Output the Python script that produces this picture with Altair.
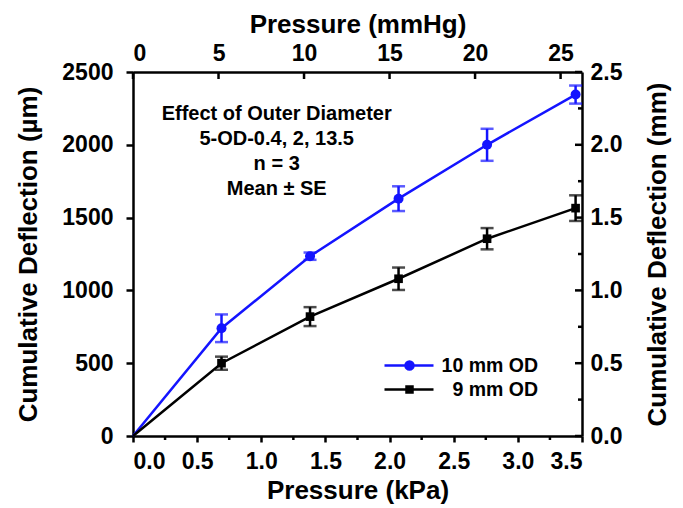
import altair as alt
import pandas as pd

# Pressure steps (kPa) and cumulative deflection (µm), mean and standard error
kpa = [0.0, 0.69, 1.38, 2.07, 2.76, 3.45]
od10_mean = [0, 740, 1235, 1630, 2000, 2345]
od10_se = [0, 95, 25, 85, 110, 62]
od9_mean = [0, 500, 820, 1080, 1355, 1565]
od9_se = [0, 45, 65, 77, 73, 88]

series_names = ["10 mm OD", "9 mm OD"]
series_colors = ["#1414ff", "#000000"]
series_shapes = ["circle", "square"]
series_sizes = [100, 75]

note_lines = ["Effect of Outer Diameter", "5-OD-0.4, 2, 13.5", "n = 3", "Mean \u00b1 SE"]

kpa_ticks = [0.0, 0.5, 1.0, 1.5, 2.0, 2.5, 3.0, 3.5]
kpa_minor = [0.25, 0.75, 1.25, 1.75, 2.25, 2.75, 3.25]
um_ticks = [0, 500, 1000, 1500, 2000, 2500]
mmhg_ticks = [0, 5, 10, 15, 20, 25]
mm_ticks = [0.0, 0.5, 1.0, 1.5, 2.0, 2.5]
mm_minor = [0.25, 0.75, 1.25, 1.75, 2.25]

KPA_MAX = 3.5
UM_MAX = 2500
KPA_TO_MMHG = 7.50062
W, H = 449, 364
FONT = "Liberation Sans"
LABEL_SIZE = 23
TITLE_SIZE = 26

rows = []
for name, means, ses in [(series_names[0], od10_mean, od10_se), (series_names[1], od9_mean, od9_se)]:
    for p, m, s in zip(kpa, means, ses):
        rows.append({"series": name, "kpa": p, "mean": m, "lo": m - s, "hi": m + s})
df = pd.DataFrame(rows)

x_scale = alt.Scale(domain=[0, KPA_MAX], nice=False, zero=False)
y_scale = alt.Scale(domain=[0, UM_MAX], nice=False)

x_axis = alt.Axis(values=kpa_ticks, format=".1f", title="Pressure (kPa)", orient="bottom",
                  tickSize=6, labelPadding=8, titlePadding=4, grid=False)
y_axis = alt.Axis(values=um_ticks, format="d", title="Cumulative Deflection (\u00b5m)", orient="left",
                  tickSize=7, labelPadding=13, titlePadding=20, grid=False)

X = alt.X("kpa:Q", scale=x_scale, axis=x_axis)
Y = alt.Y("mean:Q", scale=y_scale, axis=y_axis)


def series_layers(name, color, shape, size):
    base = alt.Chart(df).transform_filter(alt.datum.series == name)
    line = base.mark_line(color=color, strokeWidth=2.5).encode(x=X, y=Y)
    pts = base.transform_filter(alt.datum.kpa > 0)
    bar = pts.mark_rule(color=color, strokeWidth=2.5).encode(
        x=alt.X("kpa:Q"), y=alt.Y("lo:Q"), y2="hi:Q")
    cap_lo = pts.mark_tick(color=color, orient="horizontal", size=13, thickness=2.5).encode(
        x=alt.X("kpa:Q"), y=alt.Y("lo:Q"))
    cap_hi = pts.mark_tick(color=color, orient="horizontal", size=13, thickness=2.5).encode(
        x=alt.X("kpa:Q"), y=alt.Y("hi:Q"))
    dots = pts.mark_point(color=color, filled=True, opacity=1, shape=shape, size=size).encode(
        x=alt.X("kpa:Q"), y=alt.Y("mean:Q"))
    return [line, bar, cap_lo, cap_hi, dots]


layers = []
for n, c, s, z in zip(series_names, series_colors, series_shapes, series_sizes):
    layers += series_layers(n, c, s, z)

# short minor ticks under the kPa axis
minor_x = alt.Chart(pd.DataFrame({"t": kpa_minor})).mark_rule(color="black", strokeWidth=2.5).encode(
    x=alt.X("t:Q"), y=alt.value(H), y2=alt.value(H + 4))

note = alt.Chart(pd.DataFrame({"k": [0]})).mark_text(
    text=note_lines, font=FONT, fontWeight="bold", fontSize=20, lineHeight=25,
    align="center", baseline="top", color="black"
).encode(x=alt.X(datum=1.12), y=alt.Y(datum=2278))

main = alt.layer(*layers, minor_x, note)

# secondary axes: mmHg on top, mm on the right
sec_df = pd.DataFrame({"mmhg": [0, KPA_MAX * KPA_TO_MMHG], "mm": [0, UM_MAX / 1000]})
X2 = alt.X("mmhg:Q", scale=alt.Scale(domain=[0, KPA_MAX * KPA_TO_MMHG], nice=False, zero=False),
           axis=alt.Axis(values=mmhg_ticks, format="d", title="Pressure (mmHg)", orient="top",
                         tickSize=0, labelPadding=7, titlePadding=5, grid=False))
Y2 = alt.Y("mm:Q", scale=alt.Scale(domain=[0, UM_MAX / 1000], nice=False),
           axis=alt.Axis(values=mm_ticks, format=".1f", title="Cumulative Deflection (mm)", orient="right",
                         tickSize=0, labelPadding=8, titlePadding=23, titleAngle=270, titleBaseline="top",
                         grid=False))
sec_pts = alt.Chart(sec_df).mark_point(opacity=0).encode(x=X2, y=Y2)
top_ticks = alt.Chart(pd.DataFrame({"t": mmhg_ticks})).mark_rule(color="black", strokeWidth=2.5).encode(
    x=alt.X("t:Q"), y=alt.value(0), y2=alt.value(7))
right_major = alt.Chart(pd.DataFrame({"t": mm_ticks})).mark_rule(color="black", strokeWidth=2.5).encode(
    y=alt.Y("t:Q"), x=alt.value(W), x2=alt.value(W - 7))
right_minor = alt.Chart(pd.DataFrame({"t": mm_minor})).mark_rule(color="black", strokeWidth=2.5).encode(
    y=alt.Y("t:Q"), x=alt.value(W), x2=alt.value(W - 4))
secondary = alt.layer(sec_pts, top_ticks, right_major, right_minor)

# legend: line through marker, drawn as custom symbol paths; labels right-aligned
circ_path = "M-1,0H3.9M1.1,0A0.4,0.4,0,1,0,1.9,0A0.4,0.4,0,1,0,1.1,0Z"
sq_path = "M-1,0H3.9M1.2,-0.3H1.8V0.3H1.2Z"
legend_def = alt.Legend(title=None, orient="none", legendX=250, legendY=282,
                        labelFont=FONT, labelFontWeight="bold", labelFontSize=19.5, labelColor="black",
                        labelAlign="right", labelOffset=132,
                        symbolSize=400, symbolStrokeWidth=2.5, rowPadding=3, padding=0)
legend_layer = alt.Chart(df).transform_filter("false").mark_point(filled=True, opacity=1, strokeWidth=2.5).encode(
    shape=alt.Shape("series:N", scale=alt.Scale(domain=series_names, range=[circ_path, sq_path]), legend=legend_def),
    color=alt.Color("series:N", scale=alt.Scale(domain=series_names, range=series_colors), legend=legend_def),
    stroke=alt.Stroke("series:N", scale=alt.Scale(domain=series_names, range=series_colors), legend=legend_def),
)

chart = alt.layer(main, secondary, legend_layer).resolve_scale(
    x="independent", y="independent"
).properties(
    width=W, height=H,
    autosize=alt.AutoSizeParams(type="none"),
    padding={"left": 133, "top": 72, "right": 101, "bottom": 72},
    background="white",
).configure_view(
    stroke=None
).configure_axis(
    domainColor="black", domainWidth=2.5, tickColor="black", tickWidth=2.5,
    labelFont=FONT, labelFontWeight="bold", labelFontSize=LABEL_SIZE, labelColor="black",
    titleFont=FONT, titleFontWeight="bold", titleFontSize=TITLE_SIZE, titleColor="black",
)

chart.save("out.html", embed_options={"renderer": "svg", "actions": False})
